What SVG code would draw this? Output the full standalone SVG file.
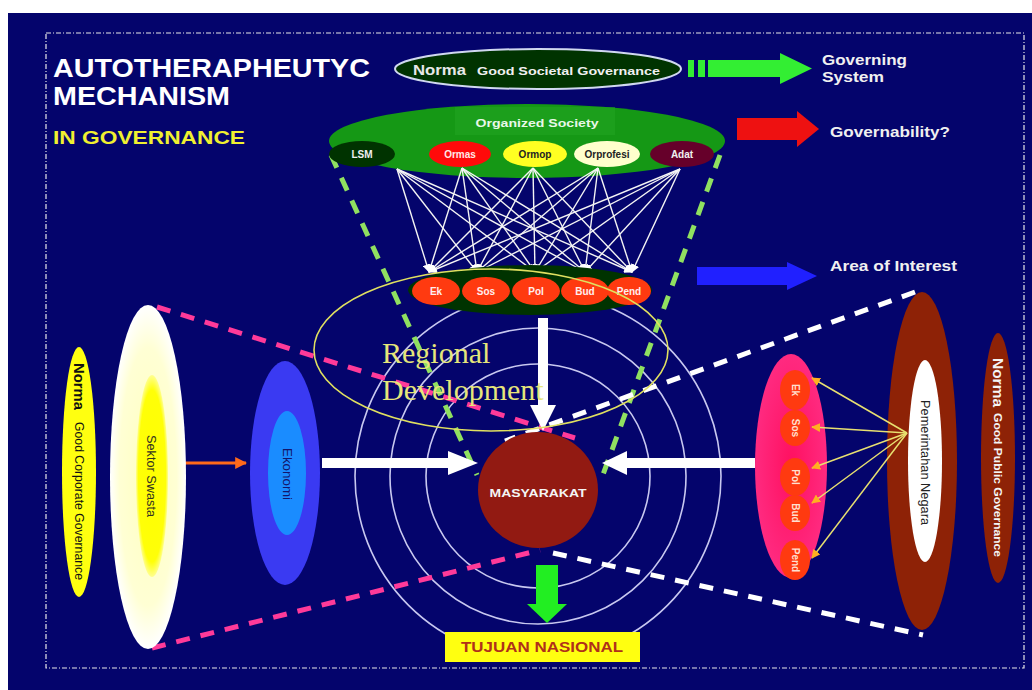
<svg xmlns="http://www.w3.org/2000/svg" width="1032" height="690" viewBox="0 0 1032 690">
<defs>
<style>
.t{font-family:"Liberation Sans",Arial,sans-serif;font-weight:bold}
.r{font-family:"Liberation Sans",Arial,sans-serif}
.net{stroke:#f4f4f4;stroke-width:1.4;fill:none}
.ya{stroke:#e8e070;stroke-width:1.5;fill:none}
.ring{stroke:#c8c8f0;stroke-width:1.6;fill:none}
.dg{stroke:#90e060;stroke-width:5;stroke-dasharray:14 11;fill:none}
.dp{stroke:#ff3a99;stroke-width:5;stroke-dasharray:14 11;fill:none}
.dw{stroke:#ffffff;stroke-width:5;stroke-dasharray:14 11;fill:none}
</style>
<marker id="wa" viewBox="0 0 10 10" refX="9" refY="5" markerWidth="6" markerHeight="6" orient="auto"><path d="M0,0L10,5L0,10z" fill="#ffffff"/></marker>
<marker id="ym" viewBox="0 0 10 10" refX="9" refY="5" markerWidth="6" markerHeight="6" orient="auto"><path d="M0,0L10,5L0,10z" fill="#ffb020"/></marker>
<marker id="om" viewBox="0 0 10 10" refX="9" refY="5" markerWidth="4" markerHeight="4" orient="auto"><path d="M0,0L10,5L0,10z" fill="#ff6a1a"/></marker>
<radialGradient id="cream" cx="50%" cy="50%" r="50%"><stop offset="0" stop-color="#ffffc0"/><stop offset="0.75" stop-color="#ffffd4"/><stop offset="1" stop-color="#ffffff"/></radialGradient>
<radialGradient id="yel" cx="50%" cy="50%" r="50%"><stop offset="0" stop-color="#ffff00"/><stop offset="0.85" stop-color="#ffff08"/><stop offset="1" stop-color="#ffff90"/></radialGradient>
<radialGradient id="pink" cx="50%" cy="50%" r="50%"><stop offset="0" stop-color="#ff1060"/><stop offset="1" stop-color="#ff2a80"/></radialGradient>
</defs>

<rect x="0" y="0" width="1032" height="690" fill="#ffffff"/>
<rect x="8" y="13" width="1024" height="677" fill="#04046c"/>
<rect x="46" y="33" width="978" height="635" fill="none" stroke="#e8e8e8" stroke-width="1.2" stroke-dasharray="5 2 1 2"/>

<g id="title">
<text class="t" x="53" y="77" font-size="25" fill="#ffffff" textLength="317" lengthAdjust="spacingAndGlyphs">AUTOTHERAPHEUTYC</text>
<text class="t" x="53" y="105" font-size="25" fill="#ffffff" textLength="177" lengthAdjust="spacingAndGlyphs">MECHANISM</text>
<text class="t" x="53" y="144" font-size="19" fill="#f0f030" textLength="192" lengthAdjust="spacingAndGlyphs">IN GOVERNANCE</text>
</g>

<g id="rings">
<circle class="ring" cx="538" cy="476" r="183"/>
<circle class="ring" cx="538" cy="476" r="148"/>
<circle class="ring" cx="538" cy="476" r="112"/>
</g>

<g id="norma-societal">
<ellipse cx="538" cy="69" rx="143" ry="20" fill="#003300" stroke="#d0d8f0" stroke-width="2"/>
<text class="t" x="413" y="75" font-size="15" fill="#e8e8e8" textLength="53" lengthAdjust="spacingAndGlyphs">Norma</text>
<text class="t" x="477" y="75" font-size="11" fill="#f0f0f0" textLength="183" lengthAdjust="spacingAndGlyphs">Good Societal Governance</text>
</g>

<g id="governing-system">
<rect x="688" y="60" width="6" height="17" fill="#33ee33"/>
<rect x="698" y="60" width="7" height="17" fill="#33ee33"/>
<rect x="708" y="60" width="73" height="17" fill="#33ee33"/>
<polygon points="780,53 812,68.5 780,84" fill="#33ee33"/>
<text class="t" x="822" y="65" font-size="15" fill="#f0f0f0" textLength="85" lengthAdjust="spacingAndGlyphs">Governing</text>
<text class="t" x="822" y="82" font-size="15" fill="#f0f0f0" textLength="62" lengthAdjust="spacingAndGlyphs">System</text>
</g>

<g id="governability">
<rect x="737" y="118" width="62" height="22" fill="#ee1111"/>
<polygon points="797,111 819,129 797,147" fill="#ee1111"/>
<text class="t" x="830" y="137" font-size="15" fill="#f0f0f0" textLength="120" lengthAdjust="spacingAndGlyphs">Governability?</text>
</g>

<g id="area-of-interest">
<rect x="697" y="267" width="91" height="18" fill="#2020ff"/>
<polygon points="787,262 817,276 787,290" fill="#2020ff"/>
<text class="t" x="830" y="271" font-size="15" fill="#f0f0f0" textLength="127" lengthAdjust="spacingAndGlyphs">Area of Interest</text>
</g>

<g id="organized-society">
<ellipse cx="527" cy="141" rx="198" ry="37" fill="#159815"/>
<rect x="455" y="107" width="160" height="28" fill="#22a422" opacity="0.6"/>
<text class="t" x="537" y="127" font-size="11" fill="#e8f8e8" text-anchor="middle" textLength="123" lengthAdjust="spacingAndGlyphs">Organized Society</text>
</g>

<g id="connectors">
<line class="dg" x1="331" y1="155" x2="477" y2="475"/>
<line class="dg" x1="720" y1="155" x2="601" y2="480"/>
<line class="dp" x1="157" y1="307" x2="575" y2="438"/>
<line class="dp" x1="152" y1="648" x2="540" y2="550"/>
<line class="dw" x1="915" y1="292" x2="505" y2="441"/>
<line class="dw" x1="553" y1="553" x2="923" y2="635"/>
<g id="net">
<line class="net" x1="397" y1="169" x2="429" y2="272" marker-end="url(#wa)"/>
<line class="net" x1="397" y1="169" x2="477" y2="272" marker-end="url(#wa)"/>
<line class="net" x1="397" y1="169" x2="535" y2="272" marker-end="url(#wa)"/>
<line class="net" x1="397" y1="169" x2="585" y2="272" marker-end="url(#wa)"/>
<line class="net" x1="397" y1="169" x2="632" y2="272" marker-end="url(#wa)"/>
<line class="net" x1="462" y1="168" x2="429" y2="272" marker-end="url(#wa)"/>
<line class="net" x1="462" y1="168" x2="477" y2="272" marker-end="url(#wa)"/>
<line class="net" x1="462" y1="168" x2="535" y2="272" marker-end="url(#wa)"/>
<line class="net" x1="462" y1="168" x2="585" y2="272" marker-end="url(#wa)"/>
<line class="net" x1="462" y1="168" x2="632" y2="272" marker-end="url(#wa)"/>
<line class="net" x1="533" y1="168" x2="429" y2="272" marker-end="url(#wa)"/>
<line class="net" x1="533" y1="168" x2="477" y2="272" marker-end="url(#wa)"/>
<line class="net" x1="533" y1="168" x2="535" y2="272" marker-end="url(#wa)"/>
<line class="net" x1="533" y1="168" x2="585" y2="272" marker-end="url(#wa)"/>
<line class="net" x1="533" y1="168" x2="632" y2="272" marker-end="url(#wa)"/>
<line class="net" x1="598" y1="168" x2="429" y2="272" marker-end="url(#wa)"/>
<line class="net" x1="598" y1="168" x2="477" y2="272" marker-end="url(#wa)"/>
<line class="net" x1="598" y1="168" x2="535" y2="272" marker-end="url(#wa)"/>
<line class="net" x1="598" y1="168" x2="585" y2="272" marker-end="url(#wa)"/>
<line class="net" x1="598" y1="168" x2="632" y2="272" marker-end="url(#wa)"/>
<line class="net" x1="680" y1="169" x2="429" y2="272" marker-end="url(#wa)"/>
<line class="net" x1="680" y1="169" x2="477" y2="272" marker-end="url(#wa)"/>
<line class="net" x1="680" y1="169" x2="535" y2="272" marker-end="url(#wa)"/>
<line class="net" x1="680" y1="169" x2="585" y2="272" marker-end="url(#wa)"/>
<line class="net" x1="680" y1="169" x2="632" y2="272" marker-end="url(#wa)"/>
</g>
<line x1="168" y1="463" x2="246" y2="463" stroke="#ff6a1a" stroke-width="3" marker-end="url(#om)"/>
<rect x="322" y="458" width="127" height="10" fill="#ffffff"/>
<polygon points="448,451 478,463 448,475" fill="#ffffff"/>
<rect x="626" y="458" width="129" height="10" fill="#ffffff"/>
<polygon points="627,451 602,463 627,475" fill="#ffffff"/>
<rect x="538" y="318" width="10" height="88" fill="#ffffff"/>
<polygon points="530,405 556,405 543,431" fill="#ffffff"/>
<rect x="536" y="565" width="22" height="40" fill="#22ee22"/>
<polygon points="527,604 567,604 547,623" fill="#22ee22"/>
</g>

<g id="lsm"><ellipse cx="362" cy="154" rx="33" ry="13" fill="#003300"/><text class="t" x="362" y="158" font-size="10" fill="#f0f0f0" text-anchor="middle">LSM</text></g>
<g id="ormas"><ellipse cx="460" cy="154" rx="31" ry="13" fill="#ff0a0a"/><text class="t" x="460" y="158" font-size="10" fill="#ffe8e8" text-anchor="middle">Ormas</text></g>
<g id="ormop"><ellipse cx="535" cy="154" rx="32" ry="13" fill="#ffff22"/><text class="t" x="535" y="158" font-size="10" fill="#222222" text-anchor="middle">Ormop</text></g>
<g id="orprofesi"><ellipse cx="607" cy="154" rx="33" ry="13" fill="#ffffcc"/><text class="t" x="607" y="158" font-size="10" fill="#222222" text-anchor="middle">Orprofesi</text></g>
<g id="adat"><ellipse cx="682" cy="154" rx="32" ry="13" fill="#66002a"/><text class="t" x="682" y="158" font-size="10" fill="#f0f0f0" text-anchor="middle">Adat</text></g>

<g id="sectors">
<ellipse cx="530" cy="290" rx="122" ry="25" fill="#003300"/>
<ellipse cx="436" cy="291" rx="24" ry="14" fill="#ff3a10"/>
<ellipse cx="486" cy="291" rx="24" ry="14" fill="#ff3a10"/>
<ellipse cx="536" cy="291" rx="24" ry="14" fill="#ff3a10"/>
<ellipse cx="585" cy="291" rx="24" ry="14" fill="#ff3a10"/>
<ellipse cx="629" cy="291" rx="22" ry="14" fill="#ff3a10"/>
<text class="t" x="436" y="295" font-size="10" fill="#ffeeee" text-anchor="middle">Ek</text>
<text class="t" x="486" y="295" font-size="10" fill="#ffeeee" text-anchor="middle">Sos</text>
<text class="t" x="536" y="295" font-size="10" fill="#ffeeee" text-anchor="middle">Pol</text>
<text class="t" x="585" y="295" font-size="10" fill="#ffeeee" text-anchor="middle">Bud</text>
<text class="t" x="629" y="295" font-size="10" fill="#ffeeee" text-anchor="middle">Pend</text>
</g>

<g id="regional-development">
<ellipse cx="491" cy="350" rx="177" ry="81" fill="none" stroke="#e0e060" stroke-width="1.6"/>
<text x="382" y="363" font-family="'Liberation Serif','Times New Roman',serif" font-size="30" fill="#e6e67a">Regional</text>
<text x="382" y="400" font-family="'Liberation Serif','Times New Roman',serif" font-size="30" fill="#e6e67a">Development</text>
</g>

<g id="masyarakat">
<ellipse cx="538" cy="490" rx="60" ry="58" fill="#921a12"/>
<text class="t" x="538" y="497" font-size="10" fill="#f4f4f4" text-anchor="middle" textLength="97" lengthAdjust="spacingAndGlyphs">MASYARAKAT</text>
</g>

<g id="tujuan-nasional">
<rect x="445" y="632" width="195" height="30" fill="#ffff10"/>
<text class="t" x="542" y="652" font-size="14" fill="#b0301a" text-anchor="middle" textLength="162" lengthAdjust="spacingAndGlyphs">TUJUAN NASIONAL</text>
</g>

<g id="norma-corporate">
<ellipse cx="79" cy="472" rx="17" ry="125" fill="#ffff10"/>
<text class="t" transform="translate(79,363) rotate(90)" font-size="14" fill="#111111" dominant-baseline="central" textLength="47" lengthAdjust="spacingAndGlyphs">Norma</text>
<text class="r" transform="translate(79,422) rotate(90)" font-size="12" fill="#111111" dominant-baseline="central" textLength="158" lengthAdjust="spacingAndGlyphs">Good Corporate Governance</text>
</g>

<g id="sektor-swasta">
<ellipse cx="148" cy="477" rx="38" ry="172" fill="url(#cream)"/>
<ellipse cx="152" cy="476" rx="16" ry="101" fill="url(#yel)"/>
<text class="r" transform="translate(151,435) rotate(90)" font-size="12" fill="#333322" dominant-baseline="central" textLength="82" lengthAdjust="spacingAndGlyphs">Sektor Swasta</text>
</g>

<g id="ekonomi">
<ellipse cx="285" cy="473" rx="35" ry="112" fill="#3a3af2"/>
<ellipse cx="287" cy="473" rx="19" ry="62" fill="#1a8cff"/>
<text class="r" transform="translate(287,448) rotate(90)" font-size="12" fill="#14146a" dominant-baseline="central" textLength="52" lengthAdjust="spacingAndGlyphs">Ekonomi</text>
</g>

<g id="area-sectors-right">
<ellipse cx="791" cy="466" rx="36" ry="112" fill="url(#pink)"/>
<ellipse cx="795" cy="390" rx="15" ry="20" fill="#ff3a10"/>
<ellipse cx="795" cy="428" rx="15" ry="18" fill="#ff3a10"/>
<ellipse cx="795" cy="477" rx="15" ry="19" fill="#ff3a10"/>
<ellipse cx="795" cy="513" rx="15" ry="18" fill="#ff3a10"/>
<ellipse cx="795" cy="560" rx="15" ry="20" fill="#ff3a10"/>
<text class="t" transform="translate(795,390) rotate(90)" font-size="10" fill="#ffe0d0" text-anchor="middle" dominant-baseline="central">Ek</text>
<text class="t" transform="translate(795,428) rotate(90)" font-size="10" fill="#ffe0d0" text-anchor="middle" dominant-baseline="central">Sos</text>
<text class="t" transform="translate(795,477) rotate(90)" font-size="10" fill="#ffe0d0" text-anchor="middle" dominant-baseline="central">Pol</text>
<text class="t" transform="translate(795,513) rotate(90)" font-size="10" fill="#ffe0d0" text-anchor="middle" dominant-baseline="central">Bud</text>
<text class="t" transform="translate(795,560) rotate(90)" font-size="10" fill="#ffe0d0" text-anchor="middle" dominant-baseline="central">Pend</text>
</g>

<g id="pemerintahan-negara">
<ellipse cx="922" cy="461" rx="35" ry="169" fill="#8e2206"/>
<ellipse cx="925" cy="461" rx="17" ry="101" fill="#ffffff"/>
<text class="r" transform="translate(925,400) rotate(90)" font-size="12" fill="#222222" dominant-baseline="central" textLength="125" lengthAdjust="spacingAndGlyphs">Pemerintahan Negara</text>
</g>

<g id="norma-public">
<ellipse cx="998" cy="458" rx="17" ry="125" fill="#8e2206"/>
<text class="t" transform="translate(998,358) rotate(90)" font-size="14" fill="#f4f4f4" dominant-baseline="central" textLength="49" lengthAdjust="spacingAndGlyphs">Norma</text>
<text class="t" transform="translate(998,413) rotate(90)" font-size="11" fill="#f4f4f4" dominant-baseline="central" textLength="144" lengthAdjust="spacingAndGlyphs">Good Public Governance</text>
</g>

<g id="yellow-arrows">
<line class="ya" x1="907" y1="433" x2="812" y2="378" marker-end="url(#ym)"/>
<line class="ya" x1="907" y1="433" x2="812" y2="427" marker-end="url(#ym)"/>
<line class="ya" x1="907" y1="433" x2="812" y2="468" marker-end="url(#ym)"/>
<line class="ya" x1="907" y1="433" x2="812" y2="503" marker-end="url(#ym)"/>
<line class="ya" x1="907" y1="433" x2="812" y2="558" marker-end="url(#ym)"/>
</g>
</svg>
